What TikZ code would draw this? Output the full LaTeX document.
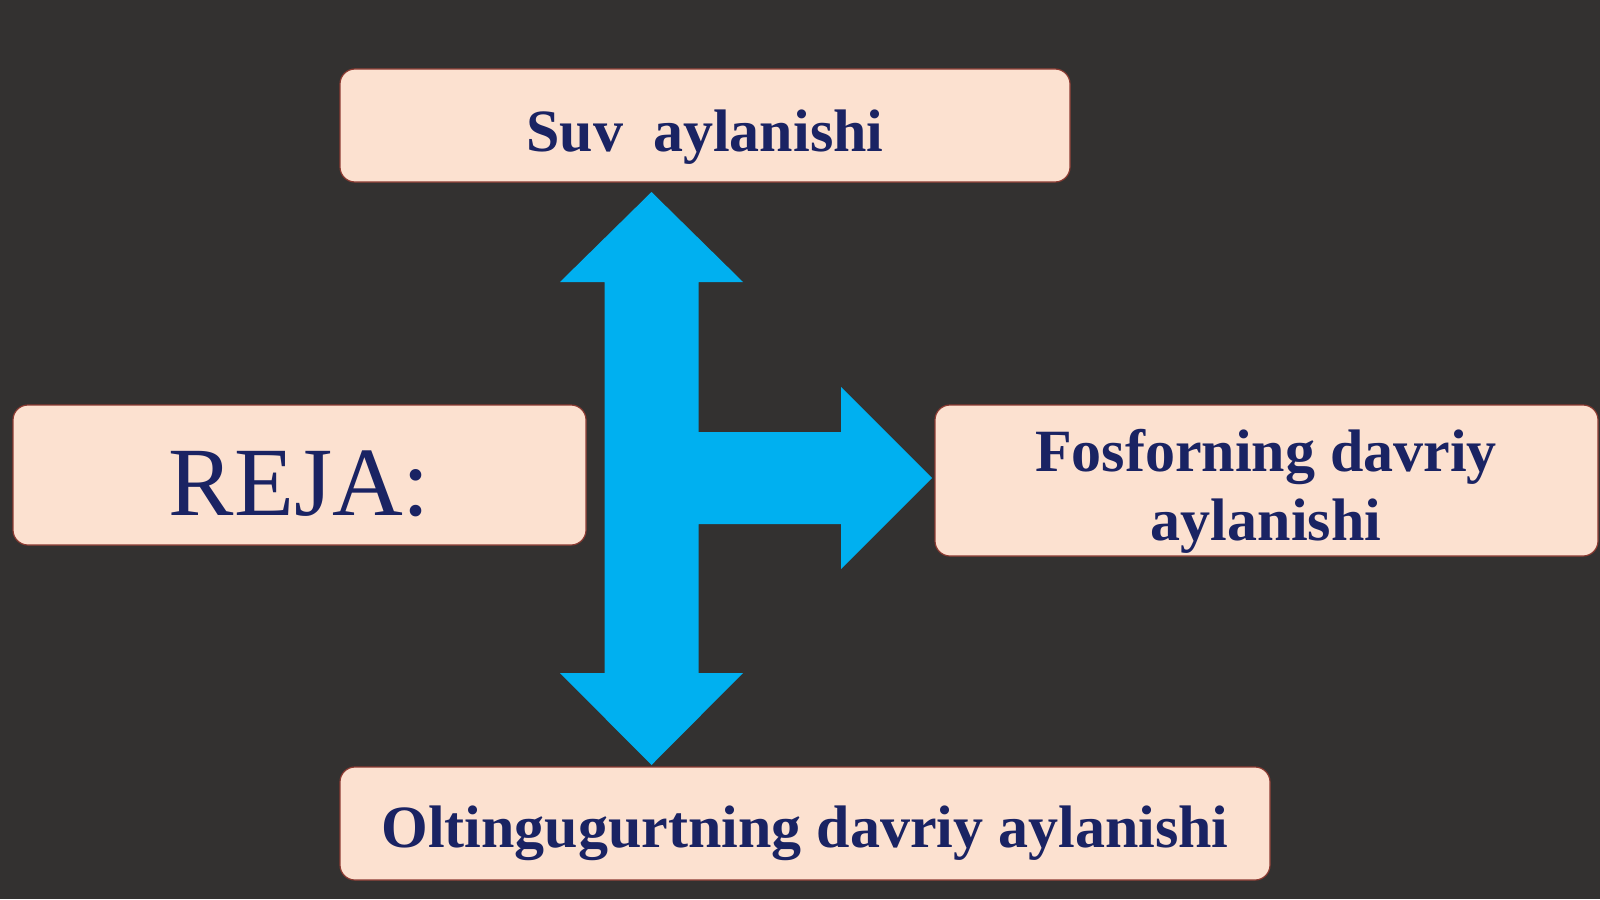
\documentclass[tikz,border=0pt]{standalone}
\usepackage{fontspec}
\setmainfont{Liberation Serif}
\definecolor{bgcol}{HTML}{333130}
\definecolor{boxfill}{HTML}{FCE1D0}
\definecolor{boxline}{HTML}{8C3B32}
\definecolor{navy}{HTML}{1A2363}
\definecolor{arrowblue}{HTML}{00B0F0}
\tikzset{
  planbox/.style={draw=boxline, line width=1.2pt, fill=boxfill, rounded corners=15pt,
    inner sep=0pt, text=navy, align=center},
  boldtxt/.style={font=\bfseries\fontsize{60}{70}\selectfont},
  plaintxt/.style={font=\fontsize{98}{110}\selectfont}
}
\begin{document}
\begin{tikzpicture}[x=1pt,y=-1pt]
\fill[bgcol] (0,0) rectangle (1600,899);
\useasboundingbox (0,0) rectangle (1600,899);
% boxes
\node[planbox, boldtxt, minimum width=730pt, minimum height=113pt,
      text height=51pt, text depth=0pt] (suv) at (705,125.5) {Suv\ \ aylanishi};
\node[planbox, plaintxt, minimum width=573pt, minimum height=140pt,
      text height=80pt, text depth=0pt] (reja) at (299.5,475) {REJA:};
\node[planbox, minimum width=663pt, minimum height=151pt] (fos) at (1266.5,480.5) {};
\node[boldtxt, text=navy, anchor=base, inner sep=0pt] (fosA) at (1266,471) {Fosforning davriy};
\node[boldtxt, text=navy, anchor=base, inner sep=0pt] (fosB) at (1266,540) {aylanishi};
\node[planbox, boldtxt, minimum width=930pt, minimum height=113pt,
      text height=47pt, text depth=0pt] (olt) at (805,823.5) {Oltingugurtning davriy aylanishi};
% block arrow
\fill[arrowblue] (651.5,192) -- (743,282) -- (698.5,282) -- (698.5,432) -- (841,432)
  -- (841,387) -- (932,478) -- (841,569) -- (841,524) -- (698.5,524) -- (698.5,673)
  -- (743,673) -- (651.5,765) -- (560,673) -- (604.5,673) -- (604.5,282) -- (560,282) -- cycle;
\end{tikzpicture}
\end{document}
